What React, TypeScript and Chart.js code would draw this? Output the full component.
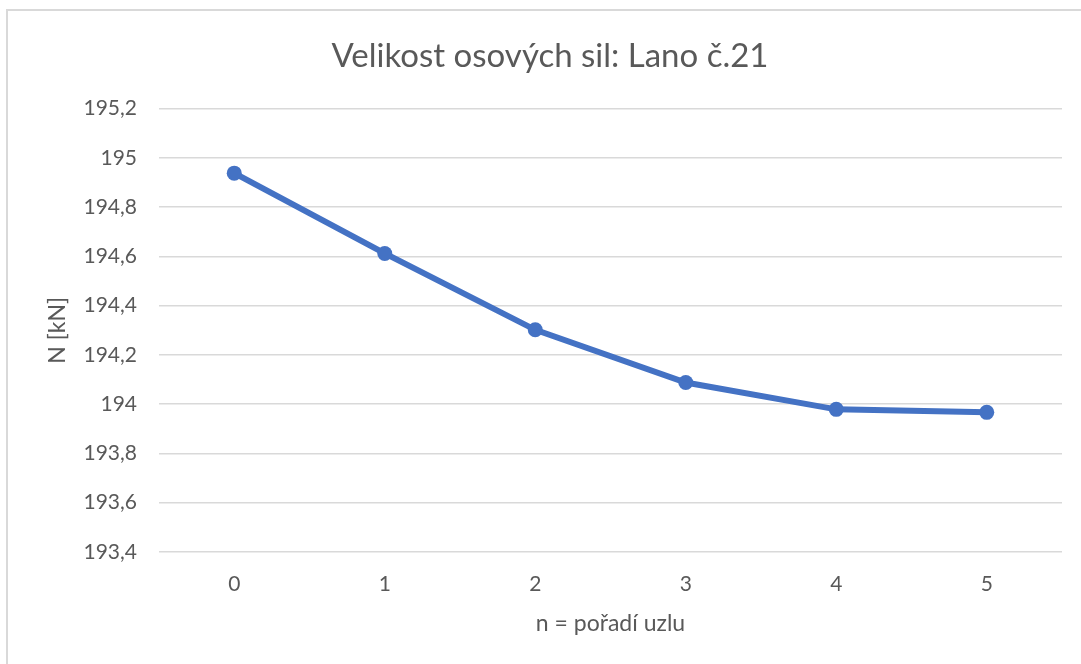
import React, { useEffect, useRef } from "react";
import { Chart, registerables } from "chart.js";

Chart.register(...registerables);

const categories = ["0", "1", "2", "3", "4", "5"];
const forces = [194.938, 194.612, 194.302, 194.088, 193.979, 193.967];
const yMin = 193.4;
const yMax = 195.2;
const yStep = 0.2;

const titleText = "Velikost osových sil: Lano č.21";
const xTitle = "n = pořadí uzlu";
const yTitle = "N [kN]";

const FONT = "Lato, 'Noto Sans', sans-serif";
const TEXT = "#595959";
const GRID = "#d9d9d9";
const BLUE = "#4472C4";

export default function App() {
  const ref = useRef<HTMLCanvasElement | null>(null);

  useEffect(() => {
    if (!ref.current) return;
    const chart = new Chart(ref.current, {
      type: "line",
      data: {
        labels: categories,
        datasets: [
          {
            data: forces,
            borderColor: BLUE,
            backgroundColor: BLUE,
            borderWidth: 6,
            pointRadius: 7.5,
            pointHoverRadius: 7.5,
            pointBorderWidth: 0,
            pointBackgroundColor: BLUE,
            tension: 0,
            fill: false,
          },
        ],
      },
      options: {
        animation: false,
        responsive: false,
        maintainAspectRatio: false,
        layout: { padding: { left: 38, right: 19, top: 0, bottom: 0 } },
        plugins: {
          legend: { display: false },
          tooltip: { enabled: false },
          title: {
            display: true,
            text: titleText,
            color: TEXT,
            font: { family: FONT, size: 33, weight: "normal", lineHeight: 1.2 },
            padding: { top: 37, bottom: 32 },
          },
        },
        scales: {
          x: {
            offset: true,
            grid: { display: false, drawTicks: false },
            border: { display: false },
            ticks: {
              color: TEXT,
              padding: 20,
              font: { family: FONT, size: 21, lineHeight: 1.2 },
            },
            title: {
              display: true,
              text: xTitle,
              color: TEXT,
              font: { family: FONT, size: 23, lineHeight: 1.2 },
              padding: { top: 0, bottom: 27 },
            },
            afterFit: (scale: any) => {
              scale.height = 112;
            },
          },
          y: {
            min: yMin,
            max: yMax,
            grid: { color: GRID, lineWidth: 1.5, drawTicks: false },
            border: { display: false },
            ticks: {
              stepSize: yStep,
              color: TEXT,
              padding: 22,
              font: { family: FONT, size: 21, lineHeight: 1.2 },
              callback: (v: any) =>
                String(Math.round(Number(v) * 10) / 10).replace(".", ","),
            },
            title: {
              display: true,
              text: yTitle,
              color: TEXT,
              font: { family: FONT, size: 23, lineHeight: 1.2 },
              padding: { top: 6, bottom: 0 },
            },
            afterFit: (scale: any) => {
              scale.width = 121;
            },
          },
        },
      },
    });
    return () => chart.destroy();
  }, []);

  return (
    <div
      style={{
        position: "fixed",
        left: 0,
        top: 0,
        width: 1081,
        height: 664,
        overflow: "hidden",
        background: "#ffffff",
      }}
    >
      <div
        style={{
          position: "absolute",
          left: 6,
          top: 9,
          width: 1200,
          height: 800,
          border: "2px solid #d9d9d9",
        }}
      />
      <canvas
        ref={ref}
        width={1081}
        height={664}
        style={{ position: "absolute", left: 0, top: 0, width: 1081, height: 664 }}
      />
    </div>
  );
}
